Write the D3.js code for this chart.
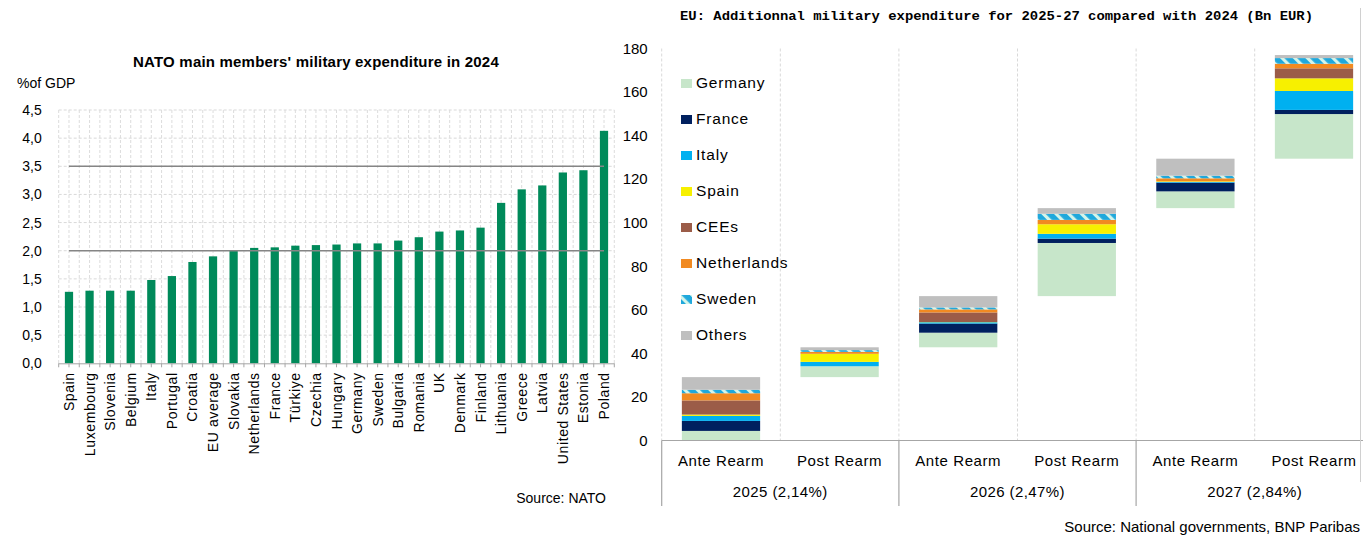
<!DOCTYPE html>
<html>
<head>
<meta charset="utf-8">
<script src="https://cdn.jsdelivr.net/npm/d3@7"></script>
<style>
  html, body { margin: 0; padding: 0; background: #fff; }
  svg { display: block; font-family: "Liberation Sans", Arial, sans-serif; }
</style>
</head>
<body>
<svg id="chart" width="1363" height="536"></svg>
<script>
// ---- Left panel: military expenditure, % of GDP, 2024 ----
const nations = ["Spain","Luxembourg","Slovenia","Belgium","Italy","Portugal","Croatia","EU average",
  "Slovakia","Netherlands","France","Türkiye","Czechia","Hungary","Germany","Sweden","Bulgaria",
  "Romania","UK","Denmark","Finland","Lithuania","Greece","Latvia","United States","Estonia","Poland"];
const gdpShare = [1.27,1.29,1.29,1.29,1.48,1.55,1.80,1.90,2.00,2.05,2.06,2.09,2.10,2.11,2.13,2.13,2.18,
  2.24,2.34,2.36,2.41,2.85,3.09,3.16,3.39,3.43,4.13];
const gdpTicks = [0,0.5,1,1.5,2,2.5,3,3.5,4,4.5];
const guideLevels = [2.0, 3.5];

// ---- Right panel: additional spending vs 2024, Bn EUR (waterfall of stacked bars) ----
const years = ["2025 (2,14%)","2026 (2,47%)","2027 (2,84%)"];
const phases = ["Ante Rearm","Post Rearm"];
const seriesNames = ["Germany","France","Italy","Spain","CEEs","Netherlands","Sweden","Others"];
const germany     = [4.4, 5.0, 6.7, 24.4, 7.7, 20.5];
const france      = [4.6, 0.0, 4.2, 2.0, 4.0, 1.9];
const italy       = [2.3, 2.0, 0.6, 2.2, 0.3, 8.7];
const spain       = [0.6, 3.7, 0.1, 4.4, 0.3, 5.8];
const cees        = [6.5, 0.0, 4.4, 0.0, 0.0, 4.6];
const netherlands = [3.3, 0.9, 1.4, 2.0, 1.4, 2.1];
const sweden      = [1.6, 0.8, 0.9, 2.8, 1.2, 2.6];
const others      = [5.8, 1.3, 5.2, 2.6, 7.8, 1.4];
const bnTicks = [0,20,40,60,80,100,120,140,160,180];

const svg = d3.select("#chart");
const comma = v => d3.format(".1f")(v).replace(".", ",");

/* ================= LEFT PANEL ================= */
const L = { left: 58.7, right: 614.3, top: 110, bottom: 363.3 };
const xL = d3.scaleBand().domain(nations).range([L.left, L.right]).paddingInner(0.6).paddingOuter(0.3);
const yL = d3.scaleLinear().domain([0, 4.5]).range([L.bottom, L.top]);
const gL = svg.append("g");

// dashed grid: horizontal at ticks, vertical at category edges and centres
gL.append("g").selectAll("line").data(gdpTicks.slice(1)).join("line")
  .attr("x1", L.left).attr("x2", L.right)
  .attr("y1", d => yL(d)).attr("y2", d => yL(d))
  .attr("stroke", "#d9d9d9").attr("stroke-dasharray", "3,2");
const stepL = xL.step();
const vEdges = d3.range(0, nations.length * 2 + 1).map(i => L.left + i * stepL / 2);
gL.append("g").selectAll("line").data(vEdges).join("line")
  .attr("x1", d => d).attr("x2", d => d)
  .attr("y1", L.top).attr("y2", L.bottom)
  .attr("stroke", "#dcdcdc").attr("stroke-dasharray", "3,2");

// bars
gL.append("g").selectAll("rect").data(nations).join("rect")
  .attr("x", d => xL(d)).attr("width", xL.bandwidth())
  .attr("y", (d, i) => yL(gdpShare[i]))
  .attr("height", (d, i) => yL(0) - yL(gdpShare[i]))
  .attr("fill", "#008a5a");

// 2% and 3.5% guide lines
const center = d => xL(d) + xL.bandwidth() / 2;
gL.append("g").selectAll("line").data(guideLevels).join("line")
  .attr("x1", center(nations[0])).attr("x2", center(nations[nations.length - 1]))
  .attr("y1", d => yL(d)).attr("y2", d => yL(d))
  .attr("stroke", "#858585").attr("stroke-width", 1.6);

// y axis labels
const axYL = gL.append("g").attr("transform", `translate(${L.left},0)`)
  .call(d3.axisLeft(yL).tickValues(gdpTicks).tickFormat(comma).tickSize(0).tickPadding(17));
axYL.select(".domain").remove();
axYL.selectAll("text").attr("font-size", 14).attr("fill", "#000")
  .attr("font-family", "Liberation Sans, Arial, sans-serif");

// x axis line and small ticks
gL.append("line").attr("x1", L.left).attr("x2", L.right)
  .attr("y1", L.bottom + 0.5).attr("y2", L.bottom + 0.5).attr("stroke", "#a6a6a6");
gL.append("g").selectAll("line").data(vEdges).join("line")
  .attr("x1", d => d).attr("x2", d => d)
  .attr("y1", L.bottom).attr("y2", L.bottom + 4).attr("stroke", "#a6a6a6");

// rotated category labels
gL.append("g").selectAll("text").data(nations).join("text")
  .attr("transform", d => `translate(${center(d) + 5},${L.bottom + 9}) rotate(-90)`)
  .attr("text-anchor", "end").attr("font-size", 14).attr("letter-spacing", 0.6).attr("fill", "#000")
  .text(d => d);

gL.append("text").attr("x", 316).attr("y", 67).attr("text-anchor", "middle")
  .attr("font-size", 15).attr("font-weight", "bold").attr("letter-spacing", 0.2)
  .text("NATO main members' military expenditure in 2024");
gL.append("text").attr("x", 17).attr("y", 88).attr("font-size", 14).text("%of GDP");
gL.append("text").attr("x", 606).attr("y", 503).attr("text-anchor", "end")
  .attr("font-size", 14).text("Source: NATO");

/* ================= RIGHT PANEL ================= */
const R = { left: 661.7, right: 1373.3, top: 48.5, bottom: 440.5 };
const barKeys = d3.range(years.length * phases.length);
const xR = d3.scaleBand().domain(barKeys).range([R.left, R.right]).paddingInner(0.34).paddingOuter(0.17);
const yR = d3.scaleLinear().domain([0, 180]).range([R.bottom, R.top]);
const stepR = xR.step();
const gR = svg.append("g");

// striped fill used for Sweden
const defs = svg.append("defs");
const pat = defs.append("pattern").attr("id", "swedenStripe").attr("patternUnits", "userSpaceOnUse")
  .attr("width", 9).attr("height", 9).attr("patternTransform", "rotate(-45)");
pat.append("rect").attr("width", 9).attr("height", 9).attr("fill", "#1fa8dc");
pat.append("rect").attr("width", 3.2).attr("height", 9).attr("fill", "#d4f5ea");

const colors = {
  Germany: "#c7e6ca", France: "#00205f", Italy: "#00b0f0", Spain: "#f7f000",
  CEEs: "#9b5c48", Netherlands: "#f18a21", Sweden: "url(#swedenStripe)", Others: "#bfbfbf"
};
const seriesValues = [germany, france, italy, spain, cees, netherlands, sweden, others];

// table for the stack; each bar starts where the previous one ended
const rows = barKeys.map(i => {
  const r = { key: i };
  seriesNames.forEach((s, j) => { r[s] = seriesValues[j][i]; });
  return r;
});
const totals = rows.map(r => d3.sum(seriesNames, s => r[s]));
const bases = totals.map((t, i) => d3.sum(totals.slice(0, i)));
const stacked = d3.stack().keys(seriesNames)(rows);

// vertical dashed grid at category edges
const edgesR = d3.range(0, barKeys.length + 1).map(i => R.left + i * stepR);
gR.append("g").selectAll("line").data(edgesR).join("line")
  .attr("x1", d => d).attr("x2", d => d).attr("y1", R.top).attr("y2", R.bottom)
  .attr("stroke", "#d9d9d9").attr("stroke-dasharray", "3,2");

// stacked segments
gR.append("g").selectAll("g").data(stacked).join("g")
  .attr("fill", d => colors[d.key])
  .selectAll("rect").data(d => d).join("rect")
  .attr("x", d => xR(d.data.key)).attr("width", xR.bandwidth())
  .attr("y", d => yR(bases[d.data.key] + d[1]))
  .attr("height", d => yR(bases[d.data.key] + d[0]) - yR(bases[d.data.key] + d[1]));

// y axis labels
const axYR = gR.append("g").attr("transform", `translate(${R.left},0)`)
  .call(d3.axisLeft(yR).tickValues(bnTicks).tickSize(0).tickPadding(14));
axYR.select(".domain").remove();
axYR.selectAll("text").attr("font-size", 15).attr("fill", "#000")
  .attr("font-family", "Liberation Sans, Arial, sans-serif");

// category axis: baseline, group separators, two label rows
gR.append("line").attr("x1", R.left).attr("x2", 1363).attr("y1", R.bottom).attr("y2", R.bottom)
  .attr("stroke", "#a6a6a6").attr("stroke-width", 1.2);
const groupEdges = d3.range(0, years.length + 1).map(i => R.left + i * stepR * phases.length);
gR.append("g").selectAll("line").data(groupEdges).join("line")
  .attr("x1", d => d).attr("x2", d => d).attr("y1", R.bottom).attr("y2", 506)
  .attr("stroke", "#a6a6a6").attr("stroke-width", 1.2);
gR.append("g").selectAll("text").data(barKeys).join("text")
  .attr("x", d => xR(d) + xR.bandwidth() / 2).attr("y", 466)
  .attr("text-anchor", "middle").attr("font-size", 15).attr("letter-spacing", 0.6)
  .text(d => phases[d % phases.length]);
gR.append("g").selectAll("text").data(years).join("text")
  .attr("x", (d, i) => groupEdges[i] + stepR).attr("y", 497)
  .attr("text-anchor", "middle").attr("font-size", 15).attr("letter-spacing", 0.4).text(d => d);

// legend inside the plot
const legend = gR.append("g").selectAll("g").data(seriesNames).join("g")
  .attr("transform", (d, i) => `translate(681,${83 + i * 36})`);
legend.append("rect").attr("x", 0).attr("y", -4).attr("width", 11).attr("height", 9)
  .attr("fill", d => colors[d]);
legend.append("text").attr("x", 15).attr("y", 5).attr("font-size", 15.5).attr("letter-spacing", 0.8)
  .text(d => d);

// title, right border and source
gR.append("text").attr("x", 680).attr("y", 20)
  .attr("font-family", "Liberation Mono, Courier New, monospace").attr("font-weight", "bold")
  .attr("font-size", 13.5).attr("textLength", 633).attr("lengthAdjust", "spacingAndGlyphs")
  .text("EU: Additionnal military expenditure for 2025-27 compared with 2024 (Bn EUR)");
gR.append("line").attr("x1", 1360.5).attr("x2", 1360.5).attr("y1", 8).attr("y2", 482)
  .attr("stroke", "#d0d0d0");
gR.append("text").attr("x", 1360).attr("y", 532).attr("text-anchor", "end").attr("font-size", 15)
  .text("Source: National governments, BNP Paribas");
</script>
</body>
</html>
